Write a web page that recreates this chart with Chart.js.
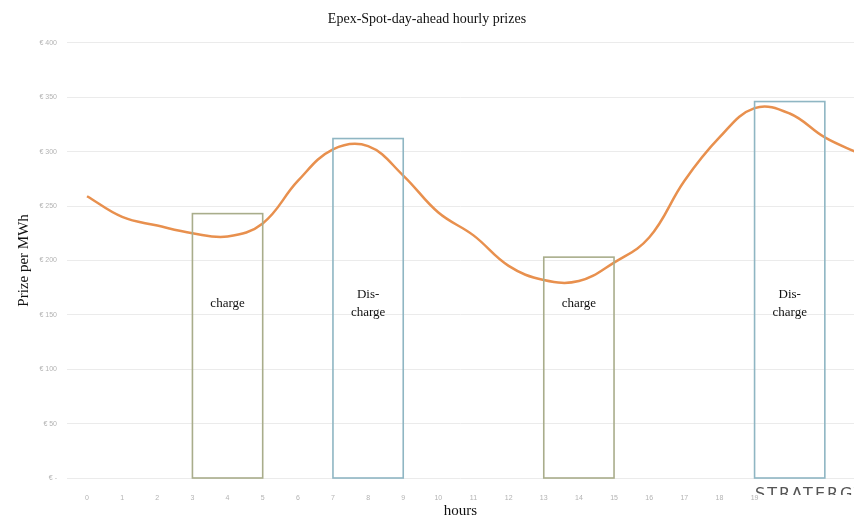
<!DOCTYPE html>
<html>
<head>
<meta charset="utf-8">
<script src="https://cdn.jsdelivr.net/npm/chart.js@4"></script>
<style>
  body { margin: 0; background: #fff; }
  #wrap { width: 854px; height: 519px; }
</style>
</head>
<body>
<div id="wrap"><canvas id="priceChart" width="854" height="519"></canvas></div>
<script>
// hourly prices (EUR per MWh)
const hours = [0, 1, 2, 3, 4, 5, 6, 7, 8, 9, 10, 11, 12, 13, 14, 15, 16, 17, 18, 19, 20, 21, 22];
const prices = [259, 240, 232, 225, 222, 234, 273, 302, 305, 278, 244, 223, 195, 182, 181, 198, 221, 273, 313, 340, 335, 313, 298];

// tick labels on the hour axis
const hourTicks = [0, 1, 2, 3, 4, 5, 6, 7, 8, 9, 10, 11, 12, 13, 14, 15, 16, 17, 18, 19, 20, 21];

// charge / discharge windows
const boxStart = [3, 7, 13, 19];
const boxEnd = [5, 9, 15, 21];
const boxTop = [243, 312, 203, 346];
const boxKind = ['charge', 'discharge', 'charge', 'discharge'];
const boxText = [['charge'], ['Dis-', 'charge'], ['charge'], ['Dis-', 'charge']];

const boxColors = { charge: '#a9ad8b', discharge: '#8fb6c3' };

// draws the charge/discharge rectangles with their labels
const windowBoxes = {
    id: 'windowBoxes',
    afterDatasetsDraw(chart) {
        const ctx = chart.ctx;
        const x = chart.scales.x;
        const y = chart.scales.y;
        ctx.save();
        for (let i = 0; i < boxStart.length; i++) {
            const left = x.getPixelForValue(boxStart[i]);
            const right = x.getPixelForValue(boxEnd[i]);
            const top = y.getPixelForValue(boxTop[i]);
            const bottom = y.getPixelForValue(0);
            ctx.strokeStyle = boxColors[boxKind[i]];
            ctx.lineWidth = 1.6;
            ctx.strokeRect(left, top, right - left, bottom - top);

            ctx.fillStyle = '#111';
            ctx.font = '13px "Liberation Serif"';
            ctx.textAlign = 'center';
            ctx.textBaseline = 'middle';
            const lines = boxText[i];
            const cy = y.getPixelForValue(160);
            const start = cy - (lines.length - 1) * 9;
            lines.forEach((t, k) => ctx.fillText(t, (left + right) / 2, start + k * 18));
        }
        ctx.restore();
    }
};

// logo text in the lower right corner, cut off like in the image
const watermark = {
    id: 'watermark',
    afterDraw(chart) {
        const ctx = chart.ctx;
        ctx.save();
        ctx.fillStyle = '#fff';
        ctx.fillRect(761, 483, 93, 20);
        ctx.beginPath();
        ctx.rect(745, 484, 109, 11);
        ctx.clip();
        ctx.fillStyle = '#555';
        ctx.font = '16px "DejaVu Sans"';
        ctx.letterSpacing = '2px';
        ctx.textAlign = 'left';
        ctx.textBaseline = 'top';
        ctx.fillText('STRATERGY', 755, 487);
        ctx.restore();
    }
};

const ctxPrice = document.getElementById('priceChart').getContext('2d');
const priceChart = new Chart(ctxPrice, {
    type: 'line',
    data: {
        datasets: [{
            data: hours.map((h, i) => ({ x: h, y: prices[i] })),
            borderColor: '#e8904e',
            borderWidth: 2.5,
            pointRadius: 0,
            tension: 0.4,
            fill: false
        }]
    },
    options: {
        responsive: false,
        animation: false,
        layout: { padding: { left: 0, right: 0, top: 0, bottom: 0 } },
        plugins: {
            legend: { display: false },
            tooltip: { enabled: false },
            title: {
                display: true,
                text: 'Epex-Spot-day-ahead hourly prizes',
                color: '#111',
                font: { family: 'Liberation Serif', size: 14, weight: 'normal' },
                padding: { top: 11, bottom: 15 }
            }
        },
        scales: {
            x: {
                type: 'linear',
                min: -0.57,
                max: 21.83,
                afterBuildTicks: (scale) => { scale.ticks = hourTicks.map(v => ({ value: v })); },
                afterFit: (scale) => { scale.height = 41; },
                grid: { display: false },
                border: { display: false },
                ticks: {
                    color: '#b3b3b3',
                    font: { family: 'Liberation Sans', size: 7 },
                    padding: 8,
                    maxRotation: 0,
                    autoSkip: false
                },
                title: {
                    display: true,
                    text: 'hours',
                    color: '#111',
                    font: { family: 'Liberation Serif', size: 15, lineHeight: 1 },
                    padding: { top: 0, bottom: 0 }
                }
            },
            y: {
                min: 0,
                max: 400,
                afterFit: (scale) => { scale.width = 67; },
                grid: { color: '#ebebeb', drawTicks: false, lineWidth: 1 },
                border: { display: false },
                ticks: {
                    stepSize: 50,
                    color: '#b3b3b3',
                    font: { family: 'Liberation Sans', size: 7 },
                    padding: 10,
                    callback: (v) => v === 0 ? '€ -' : '€ ' + v
                },
                title: {
                    display: true,
                    text: 'Prize per MWh',
                    color: '#111',
                    font: { family: 'Liberation Serif', size: 15 },
                    padding: { top: 15, bottom: 0 }
                }
            }
        }
    },
    plugins: [windowBoxes, watermark]
});
</script>
</body>
</html>
